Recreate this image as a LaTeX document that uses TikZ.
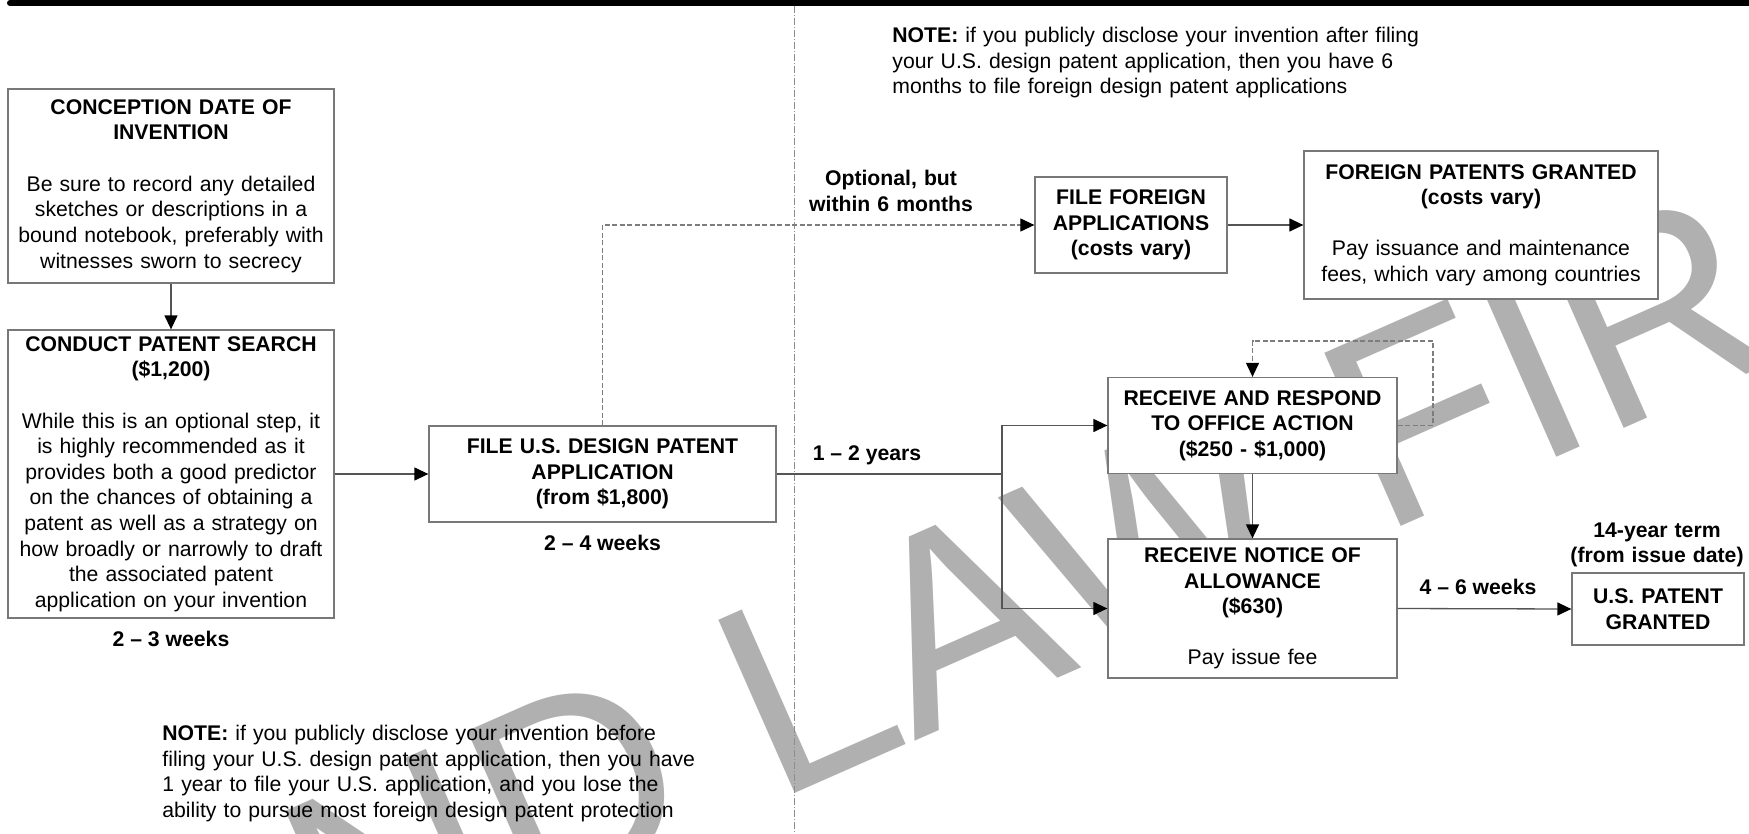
\documentclass[tikz,border=0pt]{standalone}
\usepackage{fontspec}
\setmainfont{Liberation Sans}
\usetikzlibrary{arrows.meta}
\definecolor{wm}{RGB}{176,176,176}
\definecolor{boxline}{RGB}{120,120,120}
\definecolor{conncol}{RGB}{85,85,85}
\definecolor{dashcol}{RGB}{125,125,125}
\begin{document}
\begin{tikzpicture}[x=0.5pt,y=-0.5pt,
  txt/.style={font=\fontsize{10.6pt}{12.8pt}\selectfont, inner sep=0pt},
  box/.style={txt, draw=boxline, line width=0.65pt, fill=white, align=center, rectangle},
  lbl/.style={inner sep=0pt, font=\fontsize{10.6pt}{12.8pt}\selectfont\bfseries, align=center},
  note/.style={txt, anchor=north west, align=left},
  conn/.style={draw=conncol, line width=0.65pt},
  tip/.style={-{Triangle[length=7pt,width=6.5pt,color=black]}},
  arr/.style={conn, tip},
  dsh/.style={draw=dashcol, line width=0.6pt, dash pattern=on 2.5pt off 1.25pt},
  sep/.style={draw=black!45, line width=0.5pt, dash pattern=on 3.5pt off 1pt on 0.5pt off 1pt},
]
\fill[white] (0,0) rectangle (1749,834);
\useasboundingbox (0,0) rectangle (1749,834);

% watermark
\begin{scope}
\clip (0,0) rectangle (1749,834);
\node[anchor=base west, inner sep=0pt, rotate=23.8, text=wm,
      font=\fontsize{137.5pt}{140pt}\selectfont] (wmark) at (341,994) {ND LAW FIR};
\end{scope}

% top bar and separator
\coordinate (barL) at (10,3);
\coordinate (barR) at (1765,3);
\draw[line width=3pt, line cap=round] (barL) -- (barR);
\coordinate (sepT) at (794,6);
\coordinate (sepB) at (794,834);
\draw[sep] (sepT) -- (sepB);

% boxes
\node[box, text width=163pt, minimum height=97pt] (concept) at (171,186)
 {\textbf{CONCEPTION DATE OF\\INVENTION}\\[12.8pt]Be sure to record any detailed\\sketches or descriptions in a\\bound notebook, preferably with\\witnesses sworn to secrecy};
\node[box, text width=163pt, minimum height=144pt] (search) at (171,474)
 {\textbf{CONDUCT PATENT SEARCH\\(\$1,200)}\\[12.8pt]While this is an optional step, it\\is highly recommended as it\\provides both a good predictor\\on the chances of obtaining a\\patent as well as a strategy on\\how broadly or narrowly to draft\\the associated patent\\application on your invention};
\node[box, text width=173.5pt, minimum height=48pt, font=\fontsize{10.6pt}{12.8pt}\selectfont\bfseries] (fileus) at (602.5,474)
 {FILE U.S. DESIGN PATENT\\APPLICATION\\(from \$1,800)};
\node[box, text width=96pt, minimum height=48pt, font=\fontsize{10.6pt}{12.8pt}\selectfont\bfseries] (foreign) at (1131,225)
 {FILE FOREIGN\\APPLICATIONS\\(costs vary)};
\node[box, text width=177pt, minimum height=74pt] (fgrant) at (1481,225)
 {\textbf{FOREIGN PATENTS GRANTED\\(costs vary)}\\[12.8pt]Pay issuance and maintenance\\fees, which vary among countries};
\node[box, text width=144.5pt, minimum height=48pt, font=\fontsize{10.6pt}{12.8pt}\selectfont\bfseries] (respond) at (1252.5,425.5)
 {RECEIVE AND RESPOND\\TO OFFICE ACTION\\(\$250 - \$1,000)};
\node[box, text width=144.5pt, minimum height=69.5pt] (notice) at (1252.5,608.5)
 {\textbf{RECEIVE NOTICE OF\\ALLOWANCE\\(\$630)}\\[12.8pt]Pay issue fee};
\node[box, text width=86pt, minimum height=36pt, font=\fontsize{10.6pt}{12.8pt}\selectfont\bfseries] (usgrant) at (1658,609)
 {U.S. PATENT\\GRANTED};

% labels
\node[lbl] (w23) at (171,639) {2 -- 3 weeks};
\node[lbl] (w24) at (602.5,543) {2 -- 4 weeks};
\node[lbl, text width=100pt] (opt) at (891,190.8) {Optional, but\\within 6 months};
\node[lbl] (y12) at (867,455) {1 -- 2 years};
\node[lbl] (w46) at (1478,587) {4 -- 6 weeks};
\node[lbl, text width=100pt] (term) at (1657,545) {14-year term\\(from issue date)};

% notes
\node[note, text width=290pt] (note1) at (892,27)
 {\textbf{NOTE:} if you publicly disclose your invention after filing\\your U.S. design patent application, then you have 6\\months to file foreign design patent applications};
\node[note, text width=300pt] (note2) at (162,725)
 {\textbf{NOTE:} if you publicly disclose your invention before\\filing your U.S. design patent application, then you have\\1 year to file your U.S. application, and you lose the\\ability to pursue most foreign design patent protection};

% connectors
\draw[arr] (concept.south) -- (search.north);
\draw[arr] (search.east) -- (fileus.west);
\draw[dsh, tip] (fileus.north) |- (foreign.west);
\draw[arr] (foreign.east) -- (fgrant.west);
\coordinate (j) at (1002,474);
\draw[conn] (fileus.east) -- (j);
\draw[arr] (j) |- (respond.west);
\draw[arr] (j) |- (notice.west);
\draw[arr] (respond.south) -- (notice.north);
\coordinate (loop) at (1433,341);
\draw[dsh, tip] (respond.east) -| (loop) -| (respond.north);
\draw[arr] (notice.east) -- (usgrant.west);
\end{tikzpicture}
\end{document}
